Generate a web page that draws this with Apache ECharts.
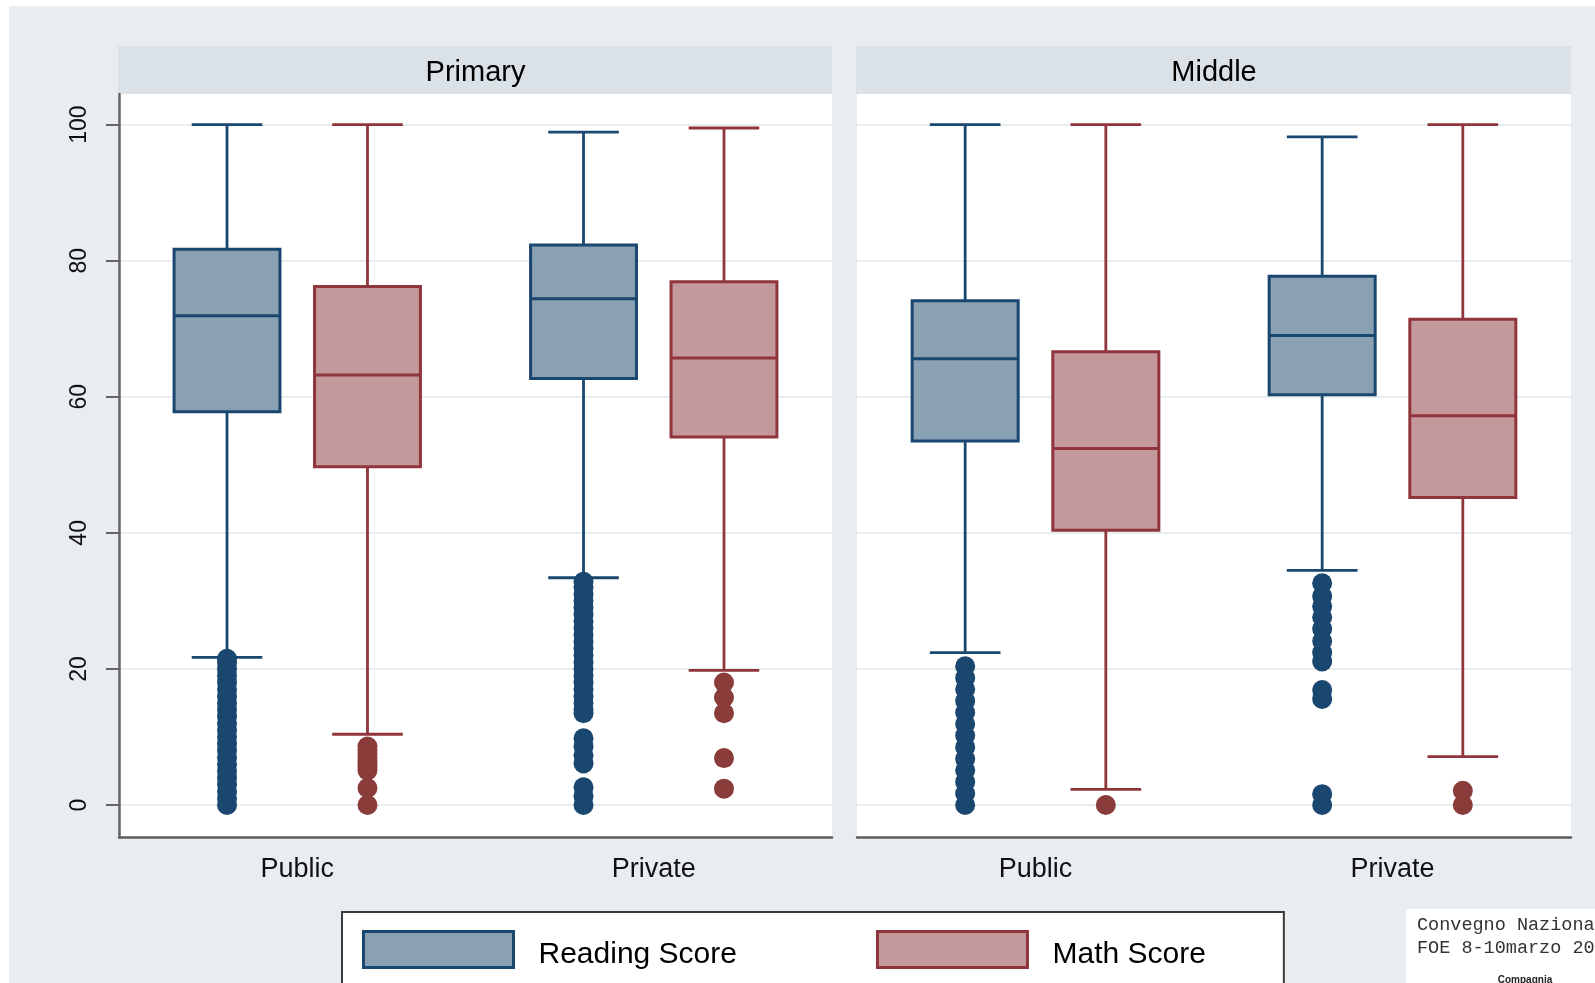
<!DOCTYPE html>
<html>
<head>
<meta charset="utf-8">
<title>Reading and Math Scores by School Level and Type</title>
<script src="https://cdn.jsdelivr.net/npm/echarts@6/dist/echarts.min.js"></script>
<style>
  html, body { margin: 0; padding: 0; background: #fff; }
  #chart { width: 1595px; height: 983px; }
</style>
</head>
<body>
<div id="chart"></div>
<script>
// ---- data ----
const levels = ['Primary', 'Middle'];
const schoolTypes = ['Public', 'Private'];
const yTicks = [0, 20, 40, 60, 80, 100];
const seriesNames = ['Reading Score', 'Math Score'];

// Box summaries per school type: [lower whisker, Q1, median, Q3, upper whisker]
const readingPrimary = [[21.7, 57.8, 71.9, 81.7, 100], [33.4, 62.7, 74.4, 82.3, 98.9]];
const mathPrimary    = [[10.4, 49.7, 63.2, 76.2, 100], [19.8, 54.1, 65.7, 76.9, 99.5]];
const readingMiddle  = [[22.4, 53.5, 65.6, 74.1, 100], [34.5, 60.3, 69.0, 77.7, 98.2]];
const mathMiddle     = [[2.3, 40.4, 52.4, 66.6, 100], [7.1, 45.2, 57.2, 71.4, 100]];

// Outside values per school type: [Public, Private]
const readingPrimaryOut = [
  [21.5, 21, 20, 19, 18, 17, 16, 15, 14, 13, 12, 11, 10, 9, 8, 7, 6, 5, 4, 3, 2, 1, 0],
  [32.8, 32, 31, 30, 29, 28, 27, 26, 25, 24, 23, 22, 21, 20, 19, 18, 17, 16, 15, 14, 13.5,
   9.8, 8.6, 7.3, 6.1, 2.6, 1.3, 0]
];
const mathPrimaryOut = [
  [8.6, 8, 7.5, 7, 6.5, 6, 5.5, 5.1, 2.5, 0],
  [18, 15.8, 13.5, 6.9, 2.4]
];
const readingMiddleOut = [
  [20.4, 18.7, 17, 15.3, 13.6, 11.9, 10.2, 8.5, 6.8, 5.1, 3.4, 1.7, 0],
  [32.6, 30.7, 29.2, 27.6, 25.9, 24.1, 22.4, 21.1, 16.9, 15.6, 1.6, 0]
];
const mathMiddleOut = [
  [0],
  [2.1, 0]
];

// ---- style ----
const READ = { line: '#1a476f', fill: '#8aa1b4', dot: '#1a476f' };
const MATH = { line: '#90353b', fill: '#c4999c', dot: '#8a3c3b' };
const SANS = '"Liberation Sans", Arial, Helvetica, sans-serif';
const PAIR_OFFSET = 0.197;   // box centre offset from category centre (share of band)
const BOX_W = 0.297;         // box width (share of band)
const CAP_W = 0.198;         // whisker cap width (share of band)
const DOT_R = 10;

function boxItem(side, c) {
  return function (params, api) {
    const cat = api.value(0);
    const band = api.size([1, 0])[0];
    const cx = api.coord([cat, 0])[0] + side * band * PAIR_OFFSET;
    const y = i => api.coord([cat, api.value(i)])[1];
    const lo = y(1), q1 = y(2), med = y(3), q3 = y(4), hi = y(5);
    const hw = band * BOX_W / 2, cw = band * CAP_W / 2;
    const ln = { stroke: c.line, lineWidth: 2.8 };
    return {
      type: 'group',
      children: [
        { type: 'line', shape: { x1: cx, y1: q1, x2: cx, y2: lo }, style: ln },
        { type: 'line', shape: { x1: cx, y1: q3, x2: cx, y2: hi }, style: ln },
        { type: 'line', shape: { x1: cx - cw, y1: lo, x2: cx + cw, y2: lo }, style: ln },
        { type: 'line', shape: { x1: cx - cw, y1: hi, x2: cx + cw, y2: hi }, style: ln },
        { type: 'rect', shape: { x: cx - hw, y: q3, width: hw * 2, height: q1 - q3 },
          style: { fill: c.fill, stroke: c.line, lineWidth: 3 } },
        { type: 'line', shape: { x1: cx - hw, y1: med, x2: cx + hw, y2: med },
          style: { stroke: c.line, lineWidth: 3 } }
      ]
    };
  };
}

function dotItem(side, c) {
  return function (params, api) {
    const cat = api.value(0);
    const band = api.size([1, 0])[0];
    const p = api.coord([cat, api.value(1)]);
    return {
      type: 'circle',
      shape: { cx: p[0] + side * band * PAIR_OFFSET, cy: p[1], r: DOT_R },
      style: { fill: c.dot }
    };
  };
}

function boxSeries(name, grid, rows, side, c) {
  return {
    type: 'custom', name, xAxisIndex: grid, yAxisIndex: grid, z: 2,
    renderItem: boxItem(side, c),
    encode: { x: 0, y: [1, 2, 3, 4, 5] },
    data: rows.map((d, i) => [i, ...d])
  };
}

function dotSeries(name, grid, lists, side, c) {
  return {
    type: 'custom', name, xAxisIndex: grid, yAxisIndex: grid, z: 3,
    renderItem: dotItem(side, c),
    encode: { x: 0, y: 1 },
    data: lists.flatMap((list, i) => list.map(v => [i, v]))
  };
}

const GRIDS = [
  { left: 119, top: 94, width: 713, height: 743 },
  { left: 857, top: 94, width: 714, height: 743 }
];

const chart = echarts.init(document.getElementById('chart'), null, { renderer: 'canvas' });

chart.setOption({
  backgroundColor: '#ffffff',
  animation: false,
  graphic: [
    { type: 'rect', z: -10, shape: { x: 9, y: 6, width: 1586, height: 977 }, style: { fill: '#e9edf1' } },
    ...GRIDS.map((g, i) => ({
      type: 'group', z: -5,
      children: [
        { type: 'rect', shape: { x: g.left - 1, y: 46, width: g.width + 1, height: 48 }, style: { fill: '#dae2e8' } },
        { type: 'text', x: g.left + g.width / 2, y: 73,
          style: { text: levels[i], fill: '#000', font: '29px ' + SANS, textAlign: 'center', textVerticalAlign: 'middle' } }
      ]
    })),
    {
      type: 'group', z: 20,
      children: [
        { type: 'rect', shape: { x: 1406, y: 909, width: 189, height: 74 }, style: { fill: '#ffffff' } },
        { type: 'text', x: 1417, y: 925,
          style: { text: 'Convegno Nazionale', fill: '#333', font: '18.5px "Liberation Mono", "DejaVu Sans Mono", monospace', textVerticalAlign: 'middle' } },
        { type: 'text', x: 1417, y: 948,
          style: { text: 'FOE 8-10marzo 20', fill: '#333', font: '18.5px "Liberation Mono", "DejaVu Sans Mono", monospace', textVerticalAlign: 'middle' } },
        { type: 'text', x: 1525, y: 975,
          style: { text: 'Compagnia', fill: '#222', font: 'bold 10px ' + SANS, textAlign: 'center', textVerticalAlign: 'top' } }
      ]
    }
  ],
  grid: GRIDS.map(g => ({ ...g, show: true, backgroundColor: '#ffffff', borderWidth: 0 })),
  xAxis: GRIDS.map((g, i) => ({
    type: 'category', gridIndex: i, data: schoolTypes, boundaryGap: true,
    axisLine: { show: true, onZero: false, lineStyle: { color: '#5c5c5c', width: 2.5 } },
    axisTick: { show: false },
    splitLine: { show: false },
    axisLabel: { color: '#111', fontSize: 27, fontFamily: SANS, margin: 19 }
  })),
  yAxis: GRIDS.map((g, i) => ({
    type: 'value', gridIndex: i, min: -4.7, max: 104.5,
    axisLine: { show: i === 0, lineStyle: { color: '#646464', width: 2.5 } },
    axisTick: { show: i === 0, customValues: yTicks, length: 13, lineStyle: { color: '#646464', width: 2 } },
    axisLabel: { show: i === 0, customValues: yTicks, rotate: 90, color: '#111', fontSize: 23, fontFamily: SANS, margin: 28 },
    splitLine: { show: true, lineStyle: { color: '#e6eeee', width: 2 } }
  })),
  legend: {
    data: [
      { name: seriesNames[0], itemStyle: { color: READ.fill, borderColor: READ.line, borderWidth: 3 } },
      { name: seriesNames[1], itemStyle: { color: MATH.fill, borderColor: MATH.line, borderWidth: 3 } }
    ],
    left: 342, top: 912,
    icon: 'rect', itemWidth: 150, itemHeight: 36, itemGap: 139,
    padding: [18, 78, 40, 20],
    backgroundColor: '#ffffff', borderColor: '#3a3a3a', borderWidth: 2,
    selectedMode: false,
    formatter: '{t|{name}}',
    textStyle: {
      color: '#000', fontSize: 30, fontFamily: SANS,
      rich: { t: { color: '#000', fontSize: 30, fontFamily: SANS, padding: [10, 0, 0, 20] } }
    }
  },
  series: [
    boxSeries(seriesNames[0], 0, readingPrimary, -1, READ),
    boxSeries(seriesNames[1], 0, mathPrimary, 1, MATH),
    boxSeries(seriesNames[0], 1, readingMiddle, -1, READ),
    boxSeries(seriesNames[1], 1, mathMiddle, 1, MATH),
    dotSeries(seriesNames[0], 0, readingPrimaryOut, -1, READ),
    dotSeries(seriesNames[1], 0, mathPrimaryOut, 1, MATH),
    dotSeries(seriesNames[0], 1, readingMiddleOut, -1, READ),
    dotSeries(seriesNames[1], 1, mathMiddleOut, 1, MATH)
  ]
});
</script>
</body>
</html>
